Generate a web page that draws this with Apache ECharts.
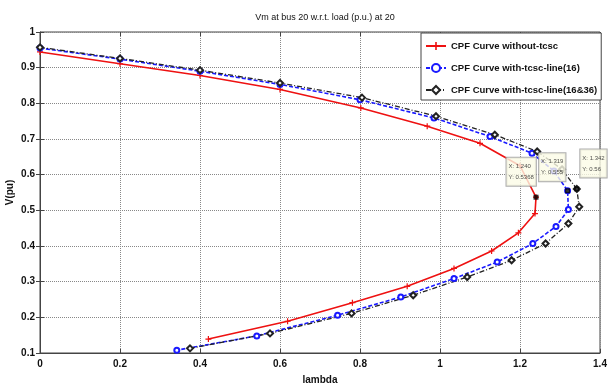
<!DOCTYPE html>
<html>
<head>
<meta charset="utf-8">
<script src="https://cdn.jsdelivr.net/npm/echarts@6/dist/echarts.min.js"></script>
<style>
  html, body { margin: 0; padding: 0; background: #fff; }
  #chart { width: 609px; height: 390px; }
</style>
</head>
<body>
<div id="chart"></div>
<script>
// CPF curves: lambda (x) and V in p.u. (y), upper branch then lower branch
const redLambda = [0, 0.2, 0.4, 0.6, 0.802, 0.968, 1.1, 1.2, 1.24, 1.2375, 1.196, 1.129, 1.035, 0.918, 0.781, 0.619, 0.421];
const redV = [0.944, 0.911, 0.878, 0.839, 0.787, 0.736, 0.688, 0.625, 0.5368, 0.491, 0.437, 0.386, 0.337, 0.287, 0.241, 0.189, 0.139];

const blueLambda = [0, 0.2, 0.4, 0.6, 0.8, 0.985, 1.125, 1.23, 1.285, 1.319, 1.321, 1.29, 1.232, 1.143, 1.035, 0.902, 0.744, 0.542, 0.342];
const blueV = [0.955, 0.924, 0.89, 0.853, 0.81, 0.759, 0.707, 0.66, 0.61, 0.555, 0.502, 0.455, 0.407, 0.355, 0.309, 0.257, 0.206, 0.148, 0.108];

const blackLambda = [0, 0.2, 0.4, 0.6, 0.805, 0.99, 1.137, 1.243, 1.305, 1.342, 1.348, 1.321, 1.264, 1.179, 1.068, 0.933, 0.779, 0.575, 0.375];
const blackV = [0.957, 0.926, 0.893, 0.857, 0.816, 0.764, 0.712, 0.665, 0.615, 0.56, 0.51, 0.463, 0.407, 0.36, 0.313, 0.262, 0.211, 0.155, 0.113];

const seriesNames = ['CPF Curve without-tcsc', 'CPF Curve with-tcsc-line(16)', 'CPF Curve with-tcsc-line(16&36)'];

// data tips at the nose points
const tipX = [1.240, 1.319, 1.342];
const tipY = [0.5368, 0.555, 0.56];
const tipXText = ['1.240', '1.319', '1.342'];
const tipYText = ['0.5368', '0.555', '0.56'];

const font = '"Liberation Sans Narrow", "Arial Narrow", "Liberation Sans", Arial, sans-serif';
const plus = 'path://M4,0H6V4H10V6H6V10H4V6H0V4H4Z';

const pairs = (xs, ys) => xs.map((x, i) => [x, ys[i]]);

const tipOffsets = [[-27, -37], [-26, -35], [6, -37]];

const chart = echarts.init(document.getElementById('chart'));

const option = {
  backgroundColor: '#fff',
  animation: false,
  title: {
    text: 'Vm at bus 20 w.r.t. load (p.u.) at 20',
    left: 320,
    textAlign: 'center',
    top: 8,
    textStyle: { fontFamily: font, fontSize: 9, fontWeight: 'normal', color: '#111' }
  },
  grid: {
    left: 40, right: 9, top: 32, bottom: 37,
    containLabel: false, outerBoundsMode: 'none',
    show: true, borderColor: '#444', borderWidth: 1
  },
  legend: {
    orient: 'vertical',
    left: 421,
    top: 33,
    padding: [8, 4, 5, 4],
    itemGap: 12,
    itemWidth: 20,
    itemHeight: 10,
    backgroundColor: '#fff',
    borderColor: '#444',
    borderWidth: 1,
    borderRadius: 0,
    data: seriesNames,
    textStyle: { fontFamily: font, fontSize: 9.5, fontWeight: 'bold', color: '#111' }
  },
  xAxis: [{
    type: 'value',
    min: 0, max: 1.4, interval: 0.2,
    name: 'lambda',
    nameLocation: 'middle',
    nameGap: 22,
    nameTextStyle: { fontFamily: font, fontSize: 10, fontWeight: 'bold', color: '#111' },
    axisLine: { show: true, lineStyle: { color: '#444' } },
    axisTick: { show: true, inside: true, length: 4, lineStyle: { color: '#444' } },
    axisLabel: { fontFamily: font, fontSize: 10, fontWeight: 'bold', color: '#111', margin: 6 },
    splitLine: { show: true, lineStyle: { color: '#888', type: 'dotted' } }
  }, {
    type: 'value', position: 'top',
    min: 0, max: 1.4, interval: 0.2,
    axisLine: { show: false },
    axisTick: { show: true, inside: true, length: 4, lineStyle: { color: '#444' } },
    axisLabel: { show: false },
    splitLine: { show: false }
  }],
  yAxis: [{
    type: 'value',
    min: 0.1, max: 1, interval: 0.1,
    name: 'V(pu)',
    nameLocation: 'middle',
    nameGap: 25,
    nameMoveOverlap: false,
    nameTextStyle: { fontFamily: font, fontSize: 10, fontWeight: 'bold', color: '#111' },
    axisLine: { show: true, lineStyle: { color: '#444' } },
    axisTick: { show: true, inside: true, length: 4, lineStyle: { color: '#444' } },
    axisLabel: { fontFamily: font, fontSize: 10, fontWeight: 'bold', color: '#111', margin: 5 },
    splitLine: { show: true, lineStyle: { color: '#888', type: 'dotted' } }
  }, {
    type: 'value', position: 'right',
    min: 0.1, max: 1, interval: 0.1,
    axisLine: { show: false },
    axisTick: { show: true, inside: true, length: 4, lineStyle: { color: '#444' } },
    axisLabel: { show: false },
    splitLine: { show: false }
  }],
  series: [
    {
      name: seriesNames[0],
      type: 'line',
      data: pairs(redLambda, redV),
      symbol: plus,
      symbolSize: 6,
      itemStyle: { color: '#ee1111' },
      lineStyle: { color: '#ee1111', width: 1.6 }
    },
    {
      name: seriesNames[1],
      type: 'line',
      data: pairs(blueLambda, blueV),
      symbol: 'emptyCircle',
      symbolSize: 5,
      itemStyle: { color: '#1a1aff', borderWidth: 1.2 },
      lineStyle: { color: '#1a1aff', width: 1.6, type: [4, 2] }
    },
    {
      name: seriesNames[2],
      type: 'line',
      data: pairs(blackLambda, blackV),
      symbol: 'emptyDiamond',
      symbolSize: 6,
      itemStyle: { color: '#222', borderWidth: 1.1 },
      lineStyle: { color: '#222', width: 1.3, type: [5, 2, 1, 2] }
    },
    {
      type: 'scatter',
      z: 10,
      symbol: 'rect',
      symbolSize: 5,
      itemStyle: { color: '#000' },
      data: tipX.map((x, i) => ({
        value: [x, tipY[i]],
        label: {
          show: true,
          position: tipOffsets[i],
          formatter: 'X: ' + tipXText[i] + '\nY: ' + tipYText[i],
          fontFamily: font,
          fontSize: 6,
          lineHeight: 11,
          color: '#222',
          backgroundColor: '#fbfbe6',
          borderColor: '#999',
          borderWidth: 1,
          padding: [3, 2, 3, 2]
        }
      }))
    }
  ]
};

chart.setOption(option);
</script>
</body>
</html>
